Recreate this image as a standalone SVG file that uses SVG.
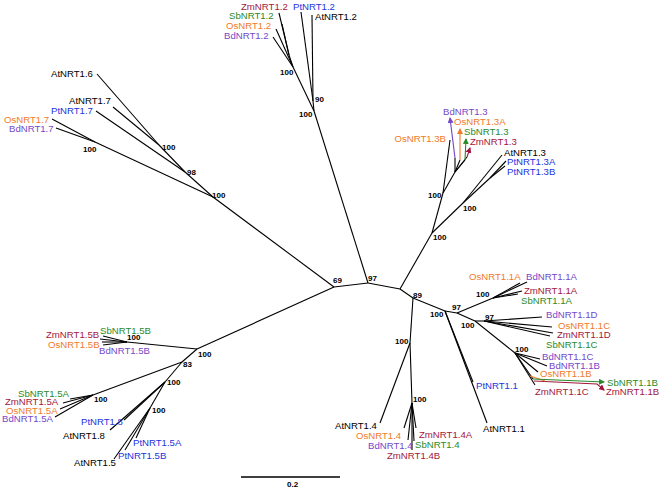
<svg xmlns="http://www.w3.org/2000/svg" width="662" height="490" viewBox="0 0 662 490">
<style>
text{font-family:"Liberation Sans",Arial,sans-serif;font-size:9.6px}
.b{font-size:8px;font-weight:bold;fill:#000}
.At{fill:#000}.Zm{fill:#a3173d}.Sb{fill:#2a8a2a}.Os{fill:#f07a2a}.Bd{fill:#7448c8}.Pt{fill:#2233dd}
#edges line,#edges polyline{stroke:#000;stroke-width:1.1;fill:none}
</style>
<defs>
<marker id="aBd" viewBox="0 0 6 6" refX="5" refY="3" markerWidth="6" markerHeight="6" orient="auto" markerUnits="userSpaceOnUse"><path d="M0,0L6,3L0,6z" fill="#7448c8"/></marker>
<marker id="aOs" viewBox="0 0 6 6" refX="5" refY="3" markerWidth="6" markerHeight="6" orient="auto" markerUnits="userSpaceOnUse"><path d="M0,0L6,3L0,6z" fill="#f07a2a"/></marker>
<marker id="aSb" viewBox="0 0 6 6" refX="5" refY="3" markerWidth="6" markerHeight="6" orient="auto" markerUnits="userSpaceOnUse"><path d="M0,0L6,3L0,6z" fill="#2a8a2a"/></marker>
<marker id="aZm" viewBox="0 0 6 6" refX="5" refY="3" markerWidth="6" markerHeight="6" orient="auto" markerUnits="userSpaceOnUse"><path d="M0,0L6,3L0,6z" fill="#a3173d"/></marker>
</defs>
<rect width="662" height="490" fill="#fff"/>
<g id="edges">
<line x1="334" y1="287" x2="368" y2="283"/>
<line x1="368" y1="283" x2="400" y2="289"/>
<line x1="400" y1="289" x2="432" y2="233"/>
<line x1="400" y1="289" x2="413" y2="298"/>
<line x1="368" y1="283" x2="314" y2="111"/>
<line x1="334" y1="287" x2="213" y2="197"/>
<line x1="334" y1="287" x2="197" y2="349"/>
<line x1="314" y1="111" x2="313" y2="101"/>
<line x1="313" y1="101" x2="312" y2="15"/>
<line x1="313" y1="101" x2="301" y2="12"/>
<line x1="314" y1="111" x2="293" y2="67"/>
<line x1="293" y1="67" x2="289" y2="55"/>
<line x1="289" y1="55" x2="279" y2="13"/>
<line x1="289" y1="55" x2="282" y2="24"/>
<line x1="293" y1="67" x2="276" y2="29"/>
<line x1="293" y1="67" x2="273" y2="37"/>
<line x1="213" y1="197" x2="185" y2="172"/>
<line x1="185" y1="172" x2="159" y2="145"/>
<line x1="159" y1="145" x2="97" y2="74"/>
<line x1="159" y1="145" x2="113" y2="107"/>
<line x1="185" y1="172" x2="96" y2="111"/>
<line x1="213" y1="197" x2="95" y2="142"/>
<line x1="95" y1="142" x2="52" y2="119"/>
<line x1="95" y1="142" x2="56" y2="128"/>
<line x1="432" y1="233" x2="443" y2="193"/>
<line x1="443" y1="193" x2="450" y2="140"/>
<line x1="443" y1="193" x2="455" y2="172"/>
<line x1="455" y1="172" x2="455" y2="158"/>
<line x1="455" y1="172" x2="460" y2="160"/>
<line x1="455" y1="172" x2="465" y2="160"/>
<line x1="455" y1="172" x2="467" y2="157"/>
<line x1="432" y1="233" x2="463" y2="203"/>
<line x1="463" y1="203" x2="502" y2="155"/>
<line x1="463" y1="203" x2="490" y2="178"/>
<line x1="490" y1="178" x2="506" y2="161"/>
<line x1="490" y1="178" x2="505" y2="166"/>
<line x1="413" y1="298" x2="445" y2="311"/>
<line x1="445" y1="311" x2="473" y2="382"/>
<line x1="445" y1="311" x2="487" y2="423"/>
<line x1="445" y1="311" x2="457" y2="313"/>
<line x1="457" y1="313" x2="493" y2="298"/>
<line x1="493" y1="298" x2="520" y2="283"/>
<line x1="493" y1="298" x2="527" y2="282"/>
<line x1="493" y1="298" x2="522" y2="291"/>
<line x1="493" y1="298" x2="518" y2="294"/>
<line x1="457" y1="313" x2="475" y2="321"/>
<line x1="475" y1="321" x2="484" y2="321"/>
<line x1="484" y1="321" x2="542" y2="317"/>
<line x1="484" y1="321" x2="552" y2="327"/>
<line x1="484" y1="321" x2="553" y2="333"/>
<line x1="484" y1="321" x2="550" y2="336"/>
<line x1="475" y1="321" x2="515" y2="353"/>
<line x1="515" y1="353" x2="540" y2="359"/>
<line x1="515" y1="353" x2="547" y2="366"/>
<line x1="515" y1="353" x2="538" y2="372"/>
<line x1="515" y1="353" x2="535" y2="385"/>
<line x1="515" y1="353" x2="533" y2="379"/>
<line x1="413" y1="298" x2="410" y2="343"/>
<line x1="410" y1="343" x2="380" y2="423"/>
<line x1="410" y1="343" x2="412" y2="403"/>
<line x1="412" y1="403" x2="404" y2="428"/>
<line x1="412" y1="403" x2="408" y2="440"/>
<line x1="412" y1="403" x2="412" y2="450"/>
<line x1="412" y1="403" x2="414" y2="441"/>
<line x1="412" y1="403" x2="416" y2="428"/>
<line x1="197" y1="349" x2="127" y2="342"/>
<line x1="127" y1="342" x2="103" y2="336"/>
<line x1="127" y1="342" x2="100" y2="339"/>
<line x1="127" y1="342" x2="102" y2="342"/>
<line x1="127" y1="342" x2="103" y2="345"/>
<line x1="197" y1="349" x2="182" y2="362"/>
<line x1="182" y1="362" x2="93" y2="395"/>
<line x1="93" y1="395" x2="70" y2="399"/>
<line x1="93" y1="395" x2="63" y2="403"/>
<line x1="93" y1="395" x2="60" y2="409"/>
<line x1="93" y1="395" x2="55" y2="417"/>
<line x1="182" y1="362" x2="165" y2="382"/>
<line x1="165" y1="382" x2="124" y2="420"/>
<line x1="165" y1="382" x2="110" y2="430"/>
<line x1="165" y1="382" x2="150" y2="408"/>
<line x1="150" y1="408" x2="136" y2="438"/>
<line x1="150" y1="408" x2="125" y2="450"/>
<line x1="150" y1="408" x2="114" y2="459"/>
<line x1="241" y1="477" x2="340" y2="477" style="stroke-width:1.6"/>
<line x1="455" y1="158" x2="450" y2="118" style="stroke:#7448c8" marker-end="url(#aBd)"/>
<line x1="460" y1="160" x2="460" y2="129" style="stroke:#f07a2a" marker-end="url(#aOs)"/>
<line x1="465" y1="160" x2="466" y2="139" style="stroke:#2a8a2a" marker-end="url(#aSb)"/>
<line x1="467" y1="157" x2="470" y2="148" style="stroke:#a3173d" marker-end="url(#aZm)"/>
<polyline points="534,381 597,384 604,390" style="stroke:#a3173d" marker-end="url(#aZm)"/>
<line x1="530" y1="376" x2="545" y2="381" style="stroke:#f07a2a"/>
<line x1="533" y1="379" x2="604" y2="382" style="stroke:#2a8a2a" marker-end="url(#aSb)"/>
</g>
<g id="bootstrap">
<text class="b" x="299" y="117">100</text>
<text class="b" x="315" y="102">90</text>
<text class="b" x="280" y="75">100</text>
<text class="b" x="162" y="150">100</text>
<text class="b" x="187" y="175">98</text>
<text class="b" x="212" y="198">100</text>
<text class="b" x="83" y="152">100</text>
<text class="b" x="333" y="283">69</text>
<text class="b" x="368" y="281">97</text>
<text class="b" x="413" y="298">89</text>
<text class="b" x="428" y="198">100</text>
<text class="b" x="463" y="211">100</text>
<text class="b" x="433" y="240">100</text>
<text class="b" x="430" y="317">100</text>
<text class="b" x="452" y="310">97</text>
<text class="b" x="476" y="297">100</text>
<text class="b" x="461" y="328">100</text>
<text class="b" x="485" y="320">97</text>
<text class="b" x="515" y="352">100</text>
<text class="b" x="395" y="344">100</text>
<text class="b" x="413" y="402">100</text>
<text class="b" x="198" y="357">100</text>
<text class="b" x="127" y="340">100</text>
<text class="b" x="183" y="367">83</text>
<text class="b" x="94" y="402">100</text>
<text class="b" x="167" y="385">100</text>
<text class="b" x="152" y="413">100</text>
<text class="b" x="287" y="487">0.2</text>
</g>
<g id="ZmNRT1.2"><text class="Zm" x="241" y="10">ZmNRT1.2</text></g>
<g id="PtNRT1.2"><text class="Pt" x="293" y="10">PtNRT1.2</text></g>
<g id="AtNRT1.2"><text class="At" x="315" y="20">AtNRT1.2</text></g>
<g id="SbNRT1.2"><text class="Sb" x="229" y="19">SbNRT1.2</text></g>
<g id="OsNRT1.2"><text class="Os" x="226" y="29">OsNRT1.2</text></g>
<g id="BdNRT1.2"><text class="Bd" x="224" y="39">BdNRT1.2</text></g>
<g id="AtNRT1.6"><text class="At" x="51" y="77">AtNRT1.6</text></g>
<g id="AtNRT1.7"><text class="At" x="69" y="104">AtNRT1.7</text></g>
<g id="PtNRT1.7"><text class="Pt" x="51" y="114">PtNRT1.7</text></g>
<g id="OsNRT1.7"><text class="Os" x="4" y="123">OsNRT1.7</text></g>
<g id="BdNRT1.7"><text class="Bd" x="9" y="132">BdNRT1.7</text></g>
<g id="BdNRT1.3"><text class="Bd" x="443" y="115">BdNRT1.3</text></g>
<g id="OsNRT1.3A"><text class="Os" x="454" y="125">OsNRT1.3A</text></g>
<g id="SbNRT1.3"><text class="Sb" x="464" y="135">SbNRT1.3</text></g>
<g id="ZmNRT1.3"><text class="Zm" x="470" y="145">ZmNRT1.3</text></g>
<g id="OsNRT1.3B"><text class="Os" x="446" y="142" text-anchor="end">OsNRT1.3B</text></g>
<g id="AtNRT1.3"><text class="At" x="504" y="156">AtNRT1.3</text></g>
<g id="PtNRT1.3A"><text class="Pt" x="507" y="165">PtNRT1.3A</text></g>
<g id="PtNRT1.3B"><text class="Pt" x="507" y="175">PtNRT1.3B</text></g>
<g id="OsNRT1.1A"><text class="Os" x="469" y="280">OsNRT1.1A</text></g>
<g id="BdNRT1.1A"><text class="Bd" x="526" y="280">BdNRT1.1A</text></g>
<g id="ZmNRT1.1A"><text class="Zm" x="524" y="294">ZmNRT1.1A</text></g>
<g id="SbNRT1.1A"><text class="Sb" x="521" y="304">SbNRT1.1A</text></g>
<g id="BdNRT1.1D"><text class="Bd" x="546" y="318">BdNRT1.1D</text></g>
<g id="OsNRT1.1C"><text class="Os" x="558" y="329">OsNRT1.1C</text></g>
<g id="ZmNRT1.1D"><text class="Zm" x="557" y="338">ZmNRT1.1D</text></g>
<g id="SbNRT1.1C"><text class="Sb" x="546" y="348">SbNRT1.1C</text></g>
<g id="BdNRT1.1C"><text class="Bd" x="542" y="360">BdNRT1.1C</text></g>
<g id="BdNRT1.1B"><text class="Bd" x="549" y="369">BdNRT1.1B</text></g>
<g id="OsNRT1.1B"><text class="Os" x="540" y="377">OsNRT1.1B</text></g>
<g id="SbNRT1.1B"><text class="Sb" x="607" y="386">SbNRT1.1B</text></g>
<g id="ZmNRT1.1B"><text class="Zm" x="606" y="395">ZmNRT1.1B</text></g>
<g id="ZmNRT1.1C"><text class="Zm" x="535" y="395">ZmNRT1.1C</text></g>
<g id="PtNRT1.1"><text class="Pt" x="476" y="389">PtNRT1.1</text></g>
<g id="AtNRT1.1"><text class="At" x="483" y="432">AtNRT1.1</text></g>
<g id="AtNRT1.4"><text class="At" x="335" y="429">AtNRT1.4</text></g>
<g id="OsNRT1.4"><text class="Os" x="356" y="439">OsNRT1.4</text></g>
<g id="BdNRT1.4"><text class="Bd" x="368" y="449">BdNRT1.4</text></g>
<g id="ZmNRT1.4A"><text class="Zm" x="419" y="438">ZmNRT1.4A</text></g>
<g id="SbNRT1.4"><text class="Sb" x="415" y="448">SbNRT1.4</text></g>
<g id="ZmNRT1.4B"><text class="Zm" x="387" y="459">ZmNRT1.4B</text></g>
<g id="ZmNRT1.5B"><text class="Zm" x="46" y="338">ZmNRT1.5B</text></g>
<g id="SbNRT1.5B"><text class="Sb" x="100" y="334">SbNRT1.5B</text></g>
<g id="OsNRT1.5B"><text class="Os" x="48" y="348">OsNRT1.5B</text></g>
<g id="BdNRT1.5B"><text class="Bd" x="99" y="354">BdNRT1.5B</text></g>
<g id="SbNRT1.5A"><text class="Sb" x="18" y="397">SbNRT1.5A</text></g>
<g id="ZmNRT1.5A"><text class="Zm" x="5" y="405">ZmNRT1.5A</text></g>
<g id="OsNRT1.5A"><text class="Os" x="6" y="414">OsNRT1.5A</text></g>
<g id="BdNRT1.5A"><text class="Bd" x="2" y="422">BdNRT1.5A</text></g>
<g id="PtNRT1.8"><text class="Pt" x="81" y="425">PtNRT1.8</text></g>
<g id="AtNRT1.8"><text class="At" x="63" y="439">AtNRT1.8</text></g>
<g id="PtNRT1.5A"><text class="Pt" x="133" y="446">PtNRT1.5A</text></g>
<g id="PtNRT1.5B"><text class="Pt" x="118" y="459">PtNRT1.5B</text></g>
<g id="AtNRT1.5"><text class="At" x="74" y="466">AtNRT1.5</text></g>
</svg>
